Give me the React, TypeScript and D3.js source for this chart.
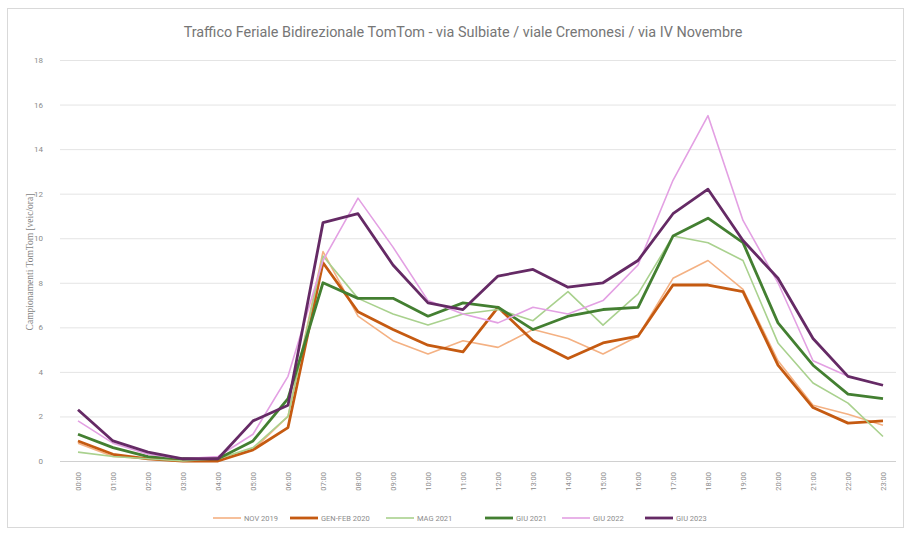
import { useRef, useEffect } from "react";
import * as d3 from "d3";

const hours = d3.range(24).map((h) => `${String(h).padStart(2, "0")}:00`);

const nov2019 = [0.8, 0.2, 0.1, 0.0, 0.1, 0.5, 2.0, 9.4, 6.5, 5.4, 4.8, 5.4, 5.1, 5.9, 5.5, 4.8, 5.6, 8.2, 9.0, 7.7, 4.5, 2.5, 2.1, 1.6];
const genFeb2020 = [0.9, 0.3, 0.1, 0.0, 0.0, 0.5, 1.5, 8.9, 6.7, 5.9, 5.2, 4.9, 6.9, 5.4, 4.6, 5.3, 5.6, 7.9, 7.9, 7.6, 4.3, 2.4, 1.7, 1.8];
const mag2021 = [0.4, 0.2, 0.1, 0.0, 0.1, 0.6, 2.0, 9.2, 7.3, 6.6, 6.1, 6.6, 6.8, 6.3, 7.6, 6.1, 7.5, 10.1, 9.8, 9.0, 5.3, 3.5, 2.6, 1.1];
const giu2021 = [1.2, 0.6, 0.2, 0.1, 0.1, 0.9, 2.8, 8.0, 7.3, 7.3, 6.5, 7.1, 6.9, 5.9, 6.5, 6.8, 6.9, 10.1, 10.9, 9.8, 6.2, 4.3, 3.0, 2.8];
const giu2022 = [1.8, 0.8, 0.3, 0.1, 0.2, 1.2, 3.8, 9.0, 11.8, 9.6, 7.2, 6.6, 6.2, 6.9, 6.6, 7.2, 8.8, 12.6, 15.5, 10.8, 8.0, 4.5, 3.8, 3.4];
const giu2023 = [2.3, 0.9, 0.4, 0.1, 0.1, 1.8, 2.5, 10.7, 11.1, 8.8, 7.1, 6.8, 8.3, 8.6, 7.8, 8.0, 9.0, 11.1, 12.2, 9.9, 8.2, 5.5, 3.8, 3.4];

const seriesNames = ["NOV 2019", "GEN-FEB 2020", "MAG 2021", "GIU 2021", "GIU 2022", "GIU 2023"];
const yTicks = [0, 2, 4, 6, 8, 10, 12, 14, 16, 18];

const colors = ["#f4b183", "#c55a11", "#a9d18e", "#437f31", "#e3a0e3", "#652a65"];
const widths = [1.6, 2.8, 1.6, 2.8, 1.6, 2.8];

export default function App() {
    const svgRef = useRef<SVGSVGElement>(null);

    useEffect(() => {
        if (!svgRef.current) return;
        const svg = d3.select(svgRef.current);
        svg.selectAll("*").remove();

        const width = 910;
        const height = 533;
        const values = [nov2019, genFeb2020, mag2021, giu2021, giu2022, giu2023];

        const x = d3.scalePoint<string>().domain(hours).range([78, 883]);
        const y = d3.scaleLinear().domain([0, 18]).range([461, 60]);

        svg.attr("width", width).attr("height", height);

        svg.append("rect")
            .attr("x", 7.5)
            .attr("y", 8.5)
            .attr("width", 896)
            .attr("height", 519)
            .attr("fill", "#fff")
            .attr("stroke", "#d9d9d9");

        svg.append("text")
            .attr("x", 463)
            .attr("y", 37)
            .attr("text-anchor", "middle")
            .attr("font-family", "Roboto, sans-serif")
            .attr("font-size", 14.4)
            .attr("fill", "#767676")
            .text("Traffico Feriale Bidirezionale TomTom - via Sulbiate / viale Cremonesi / via IV Novembre");

        // griglia
        svg.append("g")
            .selectAll("line")
            .data(yTicks)
            .join("line")
            .attr("x1", 60)
            .attr("x2", 896)
            .attr("y1", (d) => y(d) + 0.5)
            .attr("y2", (d) => y(d) + 0.5)
            .attr("stroke", (d) => (d === 0 ? "#d0d0d0" : "#e4e4e4"))
            .attr("stroke-width", 1);

        svg.append("g")
            .selectAll("text")
            .data(yTicks)
            .join("text")
            .attr("x", 43)
            .attr("y", (d) => y(d) + 3)
            .attr("text-anchor", "end")
            .attr("font-family", "Roboto, sans-serif")
            .attr("font-size", 8)
            .attr("fill", "#8c8c8c")
            .text((d) => d);

        svg.append("text")
            .attr("transform", `translate(33, 262) rotate(-90)`)
            .attr("text-anchor", "middle")
            .attr("font-family", "'Liberation Serif', serif")
            .attr("font-size", 9.5)
            .attr("fill", "#7f7f7f")
            .text("Campionamenti TomTom [veic/ora]");

        svg.append("g")
            .selectAll("text")
            .data(hours)
            .join("text")
            .attr("transform", (d) => `translate(${x(d)! + 3}, 472) rotate(-90)`)
            .attr("text-anchor", "end")
            .attr("font-family", "Roboto, sans-serif")
            .attr("font-size", 7.5)
            .attr("fill", "#8c8c8c")
            .text((d) => d);

        const line = d3
            .line<number>()
            .x((_, i) => x(hours[i])!)
            .y((d) => y(d));

        svg.append("g")
            .selectAll("path")
            .data(values)
            .join("path")
            .attr("d", (d) => line(d))
            .attr("fill", "none")
            .attr("stroke", (_, i) => colors[i])
            .attr("stroke-width", (_, i) => widths[i])
            .attr("stroke-linejoin", "round");

        // legenda
        const legendX = [213, 290, 386, 485, 562, 645];
        const lg = svg.append("g")
            .selectAll("g")
            .data(seriesNames)
            .join("g")
            .attr("transform", (_, i) => `translate(${legendX[i]}, 518)`);
        lg.append("line")
            .attr("x1", 0)
            .attr("x2", 28)
            .attr("stroke", (_, i) => colors[i])
            .attr("stroke-width", (_, i) => widths[i]);
        lg.append("text")
            .attr("x", 31)
            .attr("y", 3)
            .attr("font-family", "Roboto, sans-serif")
            .attr("font-size", 7.5)
            .attr("fill", "#8c8c8c")
            .text((d) => d);
    }, []);

    return (
        <svg
            ref={svgRef}
            style={{ position: "absolute", left: 0, top: 0, display: "block" }}
        />
    );
}
